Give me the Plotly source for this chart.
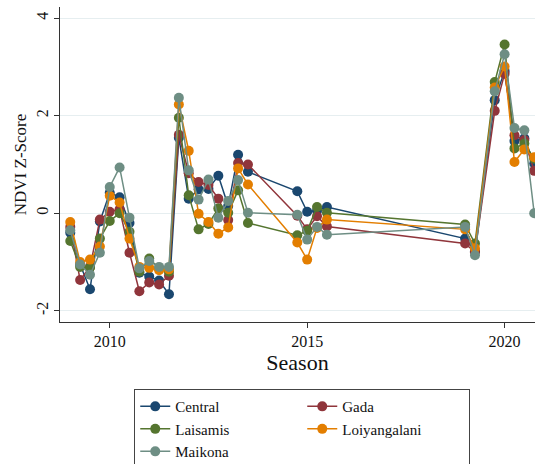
import plotly.graph_objects as go

# Quarterly seasons (decimal years) with NDVI z-scores per district
seasons = [2009.0, 2009.25, 2009.5, 2009.75, 2010.0, 2010.25, 2010.5, 2010.75,
           2011.0, 2011.25, 2011.5, 2011.75, 2012.0, 2012.25, 2012.5, 2012.75,
           2013.0, 2013.25, 2013.5, 2014.75, 2015.0, 2015.25, 2015.5,
           2019.0, 2019.25, 2019.75, 2020.0, 2020.25, 2020.5, 2020.75]

central = [-0.40, -1.05, -1.56, -0.17, 0.42, 0.33, -0.20, -1.22, -1.30, -1.38,
           -1.66, 1.55, 0.30, 0.49, 0.50, 0.77, 0.15, 1.20, 0.85, 0.45, 0.03,
           0.05, 0.13, -0.52, -0.78, 2.32, 2.92, 1.48, 1.54, 1.02]
gada = [-0.28, -1.37, -1.10, -0.13, 0.03, 0.08, -0.81, -1.60, -1.42, -1.46,
        -1.28, 1.61, 0.82, 0.64, 0.58, 0.30, -0.14, 1.03, 1.00, -0.05, -0.33,
        -0.06, -0.27, -0.62, -0.80, 2.10, 2.86, 1.60, 1.50, 0.87]
laisamis = [-0.57, -1.10, -1.11, -0.52, -0.16, 0.00, -0.38, -1.20, -0.93, -1.13,
            -1.20, 1.96, 0.37, -0.33, -0.22, 0.10, 0.01, 0.47, -0.20, -0.45,
            -0.36, 0.13, 0.01, -0.23, -0.62, 2.69, 3.46, 1.33, 1.43, 1.12]
loiyangalani = [-0.18, -1.00, -0.95, -0.68, 0.36, 0.22, -0.52, -1.10, -1.12, -1.17,
                -1.15, 2.23, 1.28, -0.01, -0.18, -0.42, -0.29, 0.92, 0.59, -0.60,
                -0.95, -0.30, -0.13, -0.33, -0.72, 2.58, 3.01, 1.05, 1.31, 1.15]
maikona = [-0.35, -1.05, -1.26, -0.81, 0.54, 0.94, -0.09, -1.13, -0.98, -1.10,
           -1.10, 2.37, 0.88, 0.28, 0.69, -0.09, 0.25, 0.68, 0.01, -0.03,
           -0.54, -0.28, -0.44, -0.28, -0.86, 2.50, 3.26, 1.75, 1.70, 0.00]

series = [
    ("Central", central, "#1a476f"),
    ("Gada", gada, "#90353b"),
    ("Laisamis", laisamis, "#55752f"),
    ("Loiyangalani", loiyangalani, "#e37e00"),
    ("Maikona", maikona, "#6e8e84"),
]

x_ticks = [2010, 2015, 2020]
y_ticks = [-2, 0, 2, 4]

FONT = "Liberation Serif"

fig = go.Figure()
for name, vals, color in series:
    fig.add_trace(go.Scatter(
        x=seasons, y=vals, name=name, mode="lines+markers",
        line=dict(color=color, width=1.5),
        marker=dict(color=color, size=10),
    ))

fig.update_layout(
    width=535, height=464,
    margin=dict(l=60, r=0, t=7, b=142, autoexpand=False),
    paper_bgcolor="white", plot_bgcolor="white",
    font=dict(family=FONT, color="#111111", size=16),
    showlegend=True,
    legend=dict(
        orientation="h", x=0.51, xanchor="center", y=-0.213, yanchor="top",
        entrywidth=122, entrywidthmode="pixels",
        bordercolor="#444444", borderwidth=1, bgcolor="white",
        font=dict(family=FONT, size=15, color="#111111"),
        traceorder="normal", itemclick=False,
    ),
)

fig.update_xaxes(
    range=[2008.74, 2020.77], tickvals=x_ticks, ticktext=[str(t) for t in x_ticks],
    showline=True, linecolor="#333333", linewidth=1, ticks="outside",
    ticklen=5, tickcolor="#333333", showgrid=False, zeroline=False,
    tickfont=dict(family=FONT, size=16),
    title=dict(text="Season", font=dict(family=FONT, size=22), standoff=2),
)
fig.update_yaxes(
    range=[-2.23, 4.23], tickvals=y_ticks, ticktext=[str(t) for t in y_ticks],
    showline=True, linecolor="#333333", linewidth=1, ticks="outside",
    ticklen=5, tickcolor="#333333", tickangle=-90,
    showgrid=True, gridcolor="#e6eef0", gridwidth=1, zeroline=False,
    tickfont=dict(family=FONT, size=16),
    title=dict(text="NDVI Z-Score", font=dict(family=FONT, size=17), standoff=2),
)

fig.write_html("out.html")
